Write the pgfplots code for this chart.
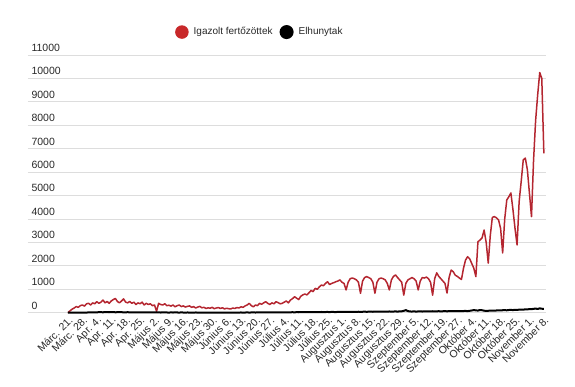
\documentclass[border=0pt]{standalone}
\usepackage{pgfplots}
\pgfplotsset{compat=1.18}
\usepackage{pgfplotstable}
\usepackage{fontspec}
\setmainfont{Liberation Sans}
\definecolor{cRed}{RGB}{180,38,48}
\definecolor{cDot}{RGB}{200,40,42}
\definecolor{cGrid}{RGB}{221,221,221}
\definecolor{cText}{RGB}{40,40,40}

% d = days since Marc. 21., c = igazolt fertozottek, h = elhunytak
\pgfplotstableread[row sep=\\]{
d c h\\
0 0 0\\ 1 80 0\\ 2 150 1\\ 3 200 1\\ 4 260 2\\ 5 230 3\\ 6 300 3\\ 7 330 4\\ 8 280 5\\ 9 380 7\\
10 400 10\\ 11 330 12\\ 12 420 15\\ 13 380 14\\ 14 470 18\\ 15 400 20\\ 16 450 22\\ 17 540 17\\ 18 420 25\\ 19 480 20\\
20 400 19\\ 21 500 22\\ 22 560 24\\ 23 610 18\\ 24 480 20\\ 25 420 23\\ 26 500 21\\ 27 590 16\\ 28 450 18\\ 29 420 20\\
30 480 17\\ 31 400 15\\ 32 450 18\\ 33 350 14\\ 34 420 16\\ 35 380 12\\ 36 450 15\\ 37 330 13\\ 38 400 14\\ 39 350 11\\
40 380 12\\ 41 300 10\\ 42 330 9\\ 43 60 11\\ 44 400 13\\ 45 350 8\\ 46 330 10\\ 47 380 12\\ 48 300 9\\ 49 320 7\\
50 280 10\\ 51 330 8\\ 52 250 11\\ 53 300 9\\ 54 330 7\\ 55 260 10\\ 56 290 8\\ 57 240 6\\ 58 270 9\\ 59 290 7\\
60 230 8\\ 61 260 6\\ 62 200 9\\ 63 240 7\\ 64 270 5\\ 65 210 8\\ 66 230 6\\ 67 180 7\\ 68 210 5\\ 69 190 8\\
70 230 6\\ 71 170 4\\ 72 200 7\\ 73 220 5\\ 74 180 6\\ 75 210 8\\ 76 160 5\\ 77 190 7\\ 78 170 6\\ 79 160 4\\
80 200 6\\ 81 180 8\\ 82 220 5\\ 83 200 7\\ 84 250 9\\ 85 230 6\\ 86 290 8\\ 87 330 10\\ 88 400 7\\ 89 300 9\\
90 250 11\\ 91 330 8\\ 92 300 10\\ 93 400 12\\ 94 360 9\\ 95 420 11\\ 96 470 13\\ 97 400 10\\ 98 350 12\\ 99 420 14\\
100 380 12\\ 101 470 15\\ 102 430 13\\ 103 380 17\\ 104 400 14\\ 105 450 16\\ 106 500 19\\ 107 420 15\\ 108 540 18\\ 109 600 20\\
110 680 17\\ 111 620 21\\ 112 560 19\\ 113 700 23\\ 114 760 20\\ 115 800 24\\ 116 760 22\\ 117 850 26\\ 118 950 23\\ 119 900 25\\
120 1040 28\\ 121 1000 24\\ 122 1100 27\\ 123 1180 30\\ 124 1150 26\\ 125 1250 29\\ 126 1320 31\\ 127 1200 27\\ 128 1250 33\\ 129 1280 30\\
130 1320 28\\ 131 1350 32\\ 132 1400 35\\ 133 1300 30\\ 134 1250 34\\ 135 970 37\\ 136 1300 33\\ 137 1450 36\\ 138 1480 39\\ 139 1450 35\\
140 1400 38\\ 141 1300 41\\ 142 830 36\\ 143 1350 40\\ 144 1500 43\\ 145 1540 39\\ 146 1500 42\\ 147 1450 45\\ 148 1300 40\\ 149 830 44\\
150 1300 47\\ 151 1450 42\\ 152 1480 46\\ 153 1450 49\\ 154 1400 44\\ 155 1250 48\\ 156 970 52\\ 157 1400 46\\ 158 1550 50\\ 159 1610 54\\
160 1500 48\\ 161 1400 55\\ 162 1300 60\\ 163 750 80\\ 164 1250 110\\ 165 1400 70\\ 166 1450 52\\ 167 1500 50\\ 168 1450 55\\ 169 1350 48\\
170 970 53\\ 171 1350 57\\ 172 1500 50\\ 173 1480 56\\ 174 1520 60\\ 175 1450 54\\ 176 1300 58\\ 177 750 62\\ 178 1450 55\\ 179 1700 60\\
180 1550 63\\ 181 1450 58\\ 182 1350 62\\ 183 1250 66\\ 184 840 60\\ 185 1500 65\\ 186 1820 68\\ 187 1750 62\\ 188 1600 66\\ 189 1550 70\\
190 1480 64\\ 191 1420 69\\ 192 1900 72\\ 193 2250 75\\ 194 2390 68\\ 195 2300 80\\ 196 2100 95\\ 197 1900 110\\ 198 1540 100\\ 199 3030 90\\
200 3100 115\\ 201 3190 105\\ 202 3530 85\\ 203 3000 78\\ 204 2120 82\\ 205 3300 88\\ 206 4070 92\\ 207 4100 85\\ 208 4050 95\\ 209 3960 100\\
210 3600 98\\ 211 2550 105\\ 212 4000 110\\ 213 4810 102\\ 214 4950 115\\ 215 5110 120\\ 216 4400 112\\ 217 3600 125\\ 218 2890 118\\ 219 4740 130\\
220 5600 135\\ 221 6520 128\\ 222 6600 145\\ 223 6100 140\\ 224 5100 155\\ 225 4100 150\\ 226 6500 165\\ 227 8200 175\\ 228 9300 160\\ 229 10250 185\\
230 10000 170\\ 231 6800 160\\
}\data

\begin{document}
\begin{tikzpicture}
\useasboundingbox (0,0) rectangle (575pt,387pt);
\begin{axis}[
  at={(28pt,74.3pt)}, anchor=south west,
  scale only axis, width=517.5pt, height=257.7pt,
  xmin=-19.4, xmax=231.8, ymin=0, ymax=11000,
  axis line style={draw=none}, tick style={draw=none},
  ymajorgrids, grid style={cGrid, line width=0.9pt},
  ytick={0,1000,...,11000},
  scaled y ticks=false,
  /pgf/number format/assume math mode=true,
  yticklabel style={anchor=south west, font=\fontsize{10.5}{12}\selectfont, text=cText, /pgf/number format/1000 sep={}},
  xtick={0,7,...,231},
  xticklabels={Márc. 21., Márc. 28., Apr. 4., Apr. 11., Apr. 18., Apr. 25., Május 2., Május 9., Május 16., Május 23., Május 30., Június 6., Június 13., Június 20., Június 27., Július 4., Július 11., Július 18., Július 25., Augusztus 1., Augusztus 8., Augusztus 15., Augusztus 22., Augusztus 29., Szeptember 5., Szeptember 12., Szeptember 19., Szeptember 27., Október 4., Október 11., Október 18., Október 25., November 1., November 8.},
  xticklabel style={rotate=45, anchor=north east, font=\fontsize{10.5}{12}\selectfont, text=cText, inner sep=2pt},
  clip=false,
  legend columns=2,
  legend style={at={(axis description cs:0.448,1.089)}, anchor=center, draw=none, fill=none,
    font=\fontsize{10}{12}\selectfont, text=cText,
    /tikz/every even column/.append style={column sep=5pt}},
]
\addplot[cRed, line width=1.5pt, line join=round,
  legend image code/.code={\fill[cDot] (6pt,0pt) circle (6pt); \path (15pt,0pt);}]
  table[x=d, y=c] {\data};
\addlegendentry{Igazolt fertőzöttek}
\addplot[black, line width=2pt, line join=round,
  legend image code/.code={\fill[black] (6pt,0pt) circle (6pt); \path (15pt,0pt);}]
  table[x=d, y=h] {\data};
\addlegendentry{Elhunytak}
\end{axis}
\end{tikzpicture}
\end{document}
